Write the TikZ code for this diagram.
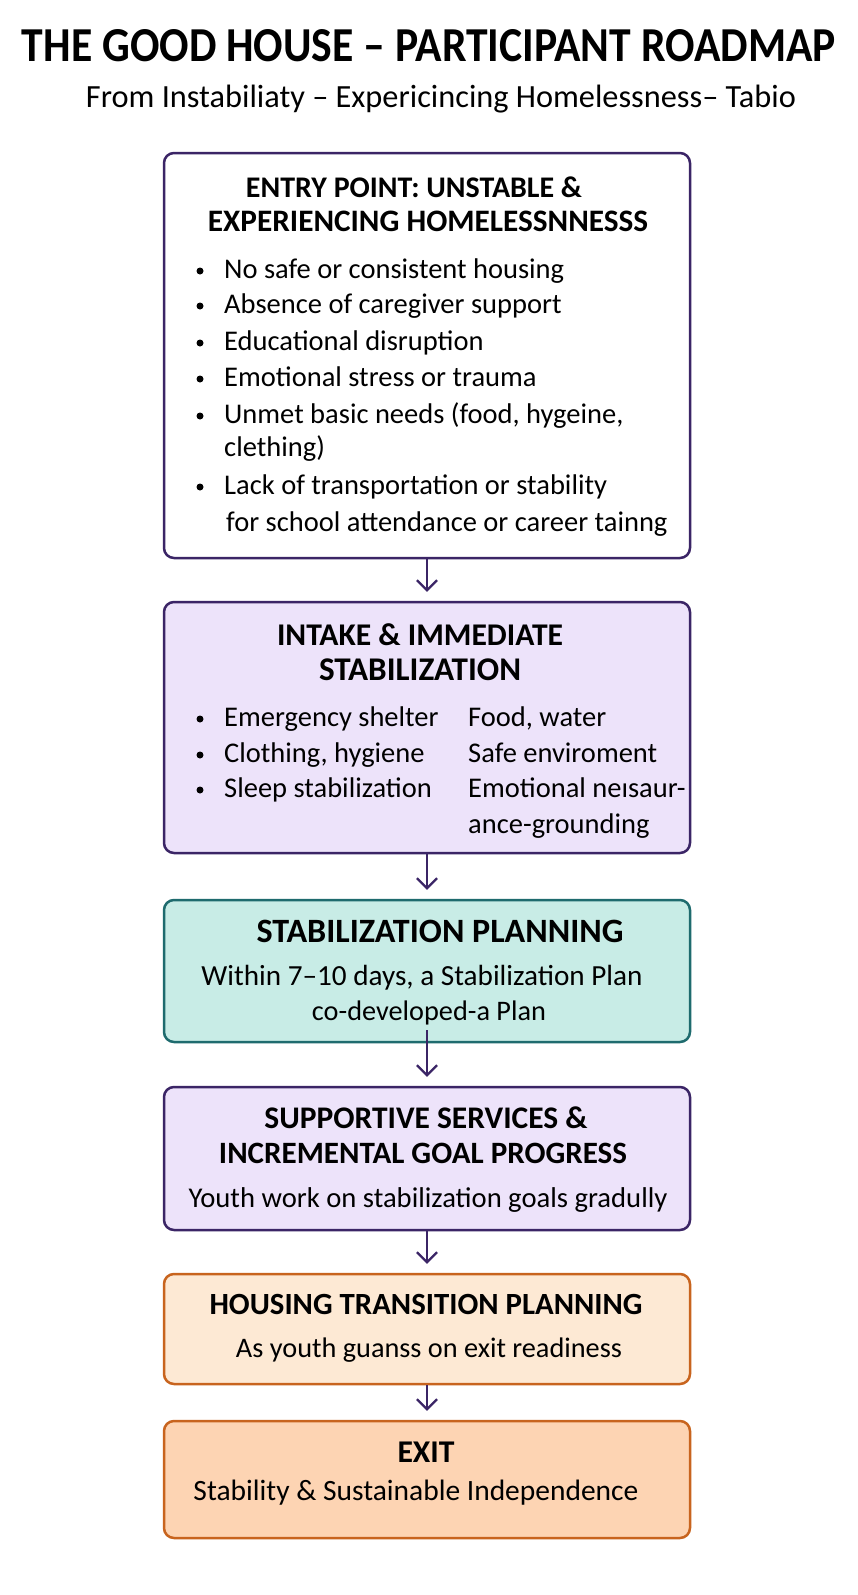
\documentclass[tikz,border=0pt]{standalone}
\usepackage{fontspec}
\setmainfont{Carlito}
\usetikzlibrary{arrows.meta}
\definecolor{pborder}{HTML}{3B2566}
\definecolor{lav}{HTML}{EDE3FA}
\definecolor{mint}{HTML}{C8ECE6}
\definecolor{teal}{HTML}{1E6B6E}
\definecolor{peachA}{HTML}{FDE9D4}
\definecolor{peachB}{HTML}{FDD4B3}
\definecolor{orng}{HTML}{C8641E}
\newcommand\fitto[2]{\resizebox{#1}{!}{#2}}
\begin{document}
\begin{tikzpicture}[x=1pt,y=-1pt,
  box/.style={draw, line width=2.5pt, rounded corners=10pt, minimum width=526pt, inner sep=0pt},
  ttl/.style={anchor=base, inner sep=0pt, font=\fontsize{28}{32}\selectfont\bfseries},
  txt/.style={anchor=base, inner sep=0pt, font=\fontsize{27}{32}\selectfont},
  bul/.style={anchor=base west, inner sep=0pt, font=\fontsize{28.5}{32}\selectfont},
  arr/.style={draw=pborder, line width=2.2pt, -{Straight Barb[length=10pt,width=20pt]}, shorten >=9pt}
]
\useasboundingbox (0,0) rectangle (858,1595);
\fill[white] (0,0) rectangle (858,1595);

% title
\node[anchor=center, inner sep=0pt] (title) at (429,46) {\resizebox{814pt}{32pt}{\fontsize{50}{60}\selectfont\bfseries THE GOOD HOUSE – PARTICIPANT ROADMAP}};
\node[anchor=base, inner sep=0pt] (sub) at (441,107.5) {\resizebox{710pt}{!}{\fontsize{31}{36}\selectfont From Instabiliaty – Expericincing Homelessness– Tabio}};

% boxes
\node[box, draw=pborder, fill=white, minimum height=405pt] (b1) at (427,355.5) {};
\node[box, draw=pborder, fill=lav, minimum height=251pt] (b2) at (427,727.5) {};
\node[box, draw=teal, fill=mint, minimum height=142pt] (b3) at (427,971) {};
\node[box, draw=pborder, fill=lav, minimum height=143pt] (b4) at (427,1158.5) {};
\node[box, draw=orng, fill=peachA, minimum height=110pt] (b5) at (427,1329) {};
\node[box, draw=orng, fill=peachB, minimum height=117pt] (b6) at (427,1479.5) {};

% box 1
\node[ttl] (b1a) at (414,197) {\fitto{336pt}{ENTRY POINT: UNSTABLE \&}};
\node[ttl] (b1b) at (428,231) {\fitto{440pt}{EXPERIENCING HOMELESSNNESSS}};
\foreach \yy in {278,313,350,386,423,494} \fill (200,\yy-7) circle (3.5pt);
\node[bul] (b1l1) at (224,278) {No safe or consistent housing};
\node[bul] (b1l2) at (224,313) {Absence of caregiver support};
\node[bul] (b1l3) at (224,350) {Educational disruption};
\node[bul] (b1l4) at (224,386) {Emotional stress or trauma};
\node[bul] (b1l5) at (224,423) {Unmet basic needs (food, hygeine,};
\node[bul] (b1l6) at (224,456) {clething)};
\node[bul] (b1l7) at (224,494) {Lack of transportation or stability};
\node[bul] (b1l8) at (226,531) {for school attendance or career tainng};

% box 2
\node[ttl] (b2a) at (420,645) {\fitto{286pt}{INTAKE \& IMMEDIATE}};
\node[ttl] (b2b) at (420,680) {\fitto{202pt}{STABILIZATION}};
\foreach \yy in {726,762,797} \fill (200,\yy-7) circle (3.5pt);
\node[bul] (b2l1) at (224,726) {Emergency shelter};
\node[bul] (b2l2) at (224,762) {Clothing, hygiene};
\node[bul] (b2l3) at (224,797) {Sleep stabilization};
\node[bul] (b2r1) at (468,726) {Food, water};
\node[bul] (b2r2) at (468,762) {Safe enviroment};
\node[bul] (b2r3) at (468,797) {Emotional neısaur-};
\node[bul] (b2r4) at (468,833) {ance-grounding};

% box 3
\node[ttl] (b3a) at (440,942) {\fitto{367pt}{STABILIZATION PLANNING}};
\node[txt] (b3b) at (422,985) {\fitto{441pt}{Within 7–10 days, a Stabilization Plan}};
\node[txt] (b3c) at (429,1020) {\fitto{234pt}{co-developed-a Plan}};

% box 4
\node[ttl] (b4a) at (426,1128) {\fitto{323pt}{SUPPORTIVE SERVICES \&}};
\node[ttl] (b4b) at (423,1163) {\fitto{408pt}{INCREMENTAL GOAL PROGRESS}};
\node[txt] (b4c) at (428,1207) {\fitto{479pt}{Youth work on stabilization goals gradully}};

% box 5
\node[ttl] (b5a) at (426,1314) {\fitto{433pt}{HOUSING TRANSITION PLANNING}};
\node[txt] (b5b) at (429,1357) {\fitto{386pt}{As youth guanss on exit readiness}};

% box 6
\node[ttl] (b6a) at (426,1462) {\fitto{57pt}{EXIT}};
\node[txt] (b6b) at (416,1500) {\fitto{445pt}{Stability \& Sustainable Independence}};

% arrows
\coordinate (a3) at (427,1030);
\draw[arr] (b1.south) -- (b2.north);
\draw[arr] (b2.south) -- (b3.north);
\draw[arr] (a3) -- (b4.north);
\draw[arr] (b4.south) -- (b5.north);
\draw[arr] (b5.south) -- (b6.north);
\end{tikzpicture}
\end{document}
